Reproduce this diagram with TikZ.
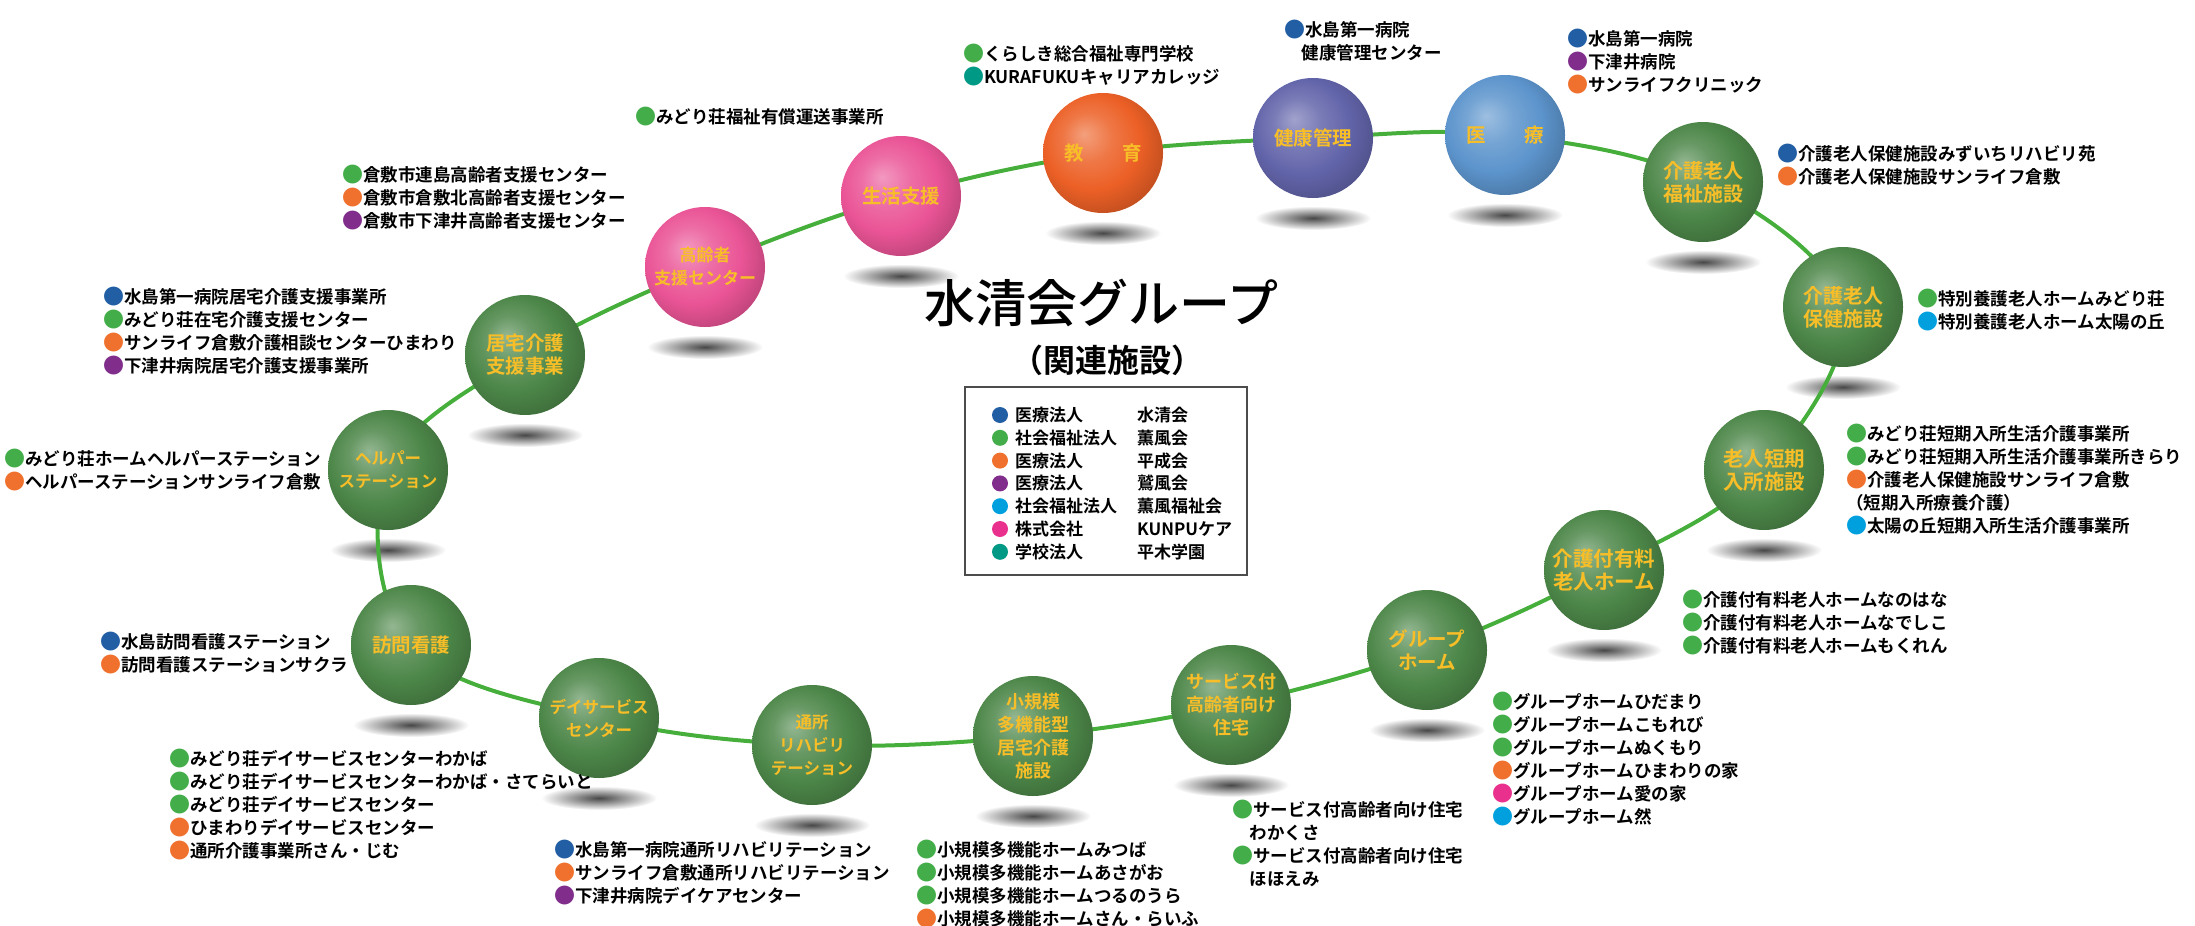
\documentclass[tikz,border=0pt]{standalone}
\usepackage{fontspec}
\setmainfont{Noto Sans CJK JP}[BoldFont={Noto Sans CJK JP Bold}]
\newfontfamily\titlefont{Noto Sans CJK JP Medium}
\pgfdeclarelayer{shadow}
\pgfdeclarelayer{ring}
\pgfsetlayers{shadow,ring,main}

\definecolor{dotblue}{RGB}{33,94,164}
\definecolor{dotgreen}{RGB}{67,173,73}
\definecolor{dotorange}{RGB}{239,113,45}
\definecolor{dotpurple}{RGB}{128,45,140}
\definecolor{dotcyan}{RGB}{0,160,222}
\definecolor{dotpink}{RGB}{232,48,140}
\definecolor{dotteal}{RGB}{0,153,133}
\definecolor{ballgreen}{RGB}{76,134,72}
\definecolor{ballpink}{RGB}{234,84,150}
\definecolor{ballorange}{RGB}{236,96,38}
\definecolor{ballviolet}{RGB}{98,100,170}
\definecolor{ballsky}{RGB}{92,148,204}
\definecolor{ballgold}{RGB}{248,190,40}
\definecolor{ringgreen}{RGB}{70,175,60}
\colorlet{ballc}{ballgreen}

\pgfdeclareradialshading[ballc]{sphere}{\pgfqpoint{-8bp}{8bp}}{%
  color(0bp)=(ballc!60!white); color(10bp)=(ballc!85!white);
  color(20bp)=(ballc); color(30bp)=(ballc!82!black); color(50bp)=(ballc!72!black)}

\newcommand{\spot}[1]{{\color{#1}\fontsize{21pt}{23pt}\selectfont\raisebox{-0.06em}{●}}}

\tikzset{
  sphere node/.style={circle, minimum size=120pt, inner sep=0pt, shade, shading=sphere,
    text=ballgold, align=center},
  facility/.style={anchor=north west, align=left, inner sep=0pt,
    font=\bfseries\fontsize{17.5pt}{23pt}\selectfont},
  legendtext/.style={anchor=west, inner sep=0pt, font=\bfseries\fontsize{17pt}{20pt}\selectfont},
  dotmark/.style={circle, minimum size=16pt, inner sep=0pt},
  link/.style={ringgreen, line width=4pt},
}
\tikzset{
  pics/ball/.style args={#1/#2/#3}{% #1=colour, #2=font size, #3=label
    code = {
      \begin{pgfonlayer}{shadow}
        \shade[inner color=black!72, outer color=white] (0,80) ellipse (58 and 12);
      \end{pgfonlayer}
      \colorlet{ballc}{#1}
      \node[sphere node, font=\bfseries\fontsize{#2pt}{23pt}\selectfont] (-c) at (0,0) {#3};
}}}

\begin{document}
\begin{tikzpicture}[x=1pt, y=-1pt]
  \useasboundingbox (0,0) rectangle (2195,926);

  \pic (koureisha) at (705,267) {ball={ballpink/17/高齢者\\支援センター}};
  \pic (seikatsu) at (901,196) {ball={ballpink/19.5/生活支援}};
  \pic (kyouiku) at (1103,153) {ball={ballorange/19.5/教　　育}};
  \pic (kenkou) at (1313,138) {ball={ballviolet/19.5/健康管理}};
  \pic (iryou) at (1505,135) {ball={ballsky/19.5/医　　療}};
  \pic (fukushi) at (1703,182) {ball={ballgreen/20/介護老人\\福祉施設}};
  \pic (hoken) at (1843,307) {ball={ballgreen/20/介護老人\\保健施設}};
  \pic (tanki) at (1764,470) {ball={ballgreen/20.5/老人短期\\入所施設}};
  \pic (yuryou) at (1604,570) {ball={ballgreen/20.5/介護付有料\\老人ホーム}};
  \pic (group) at (1427,650) {ball={ballgreen/19.5/グループ\\ホーム}};
  \pic (sakouju) at (1231,705) {ball={ballgreen/18/サービス付\\高齢者向け\\住宅}};
  \pic (shoukibo) at (1033,736) {ball={ballgreen/18/小規模\\多機能型\\居宅介護\\施設}};
  \pic (tsusho) at (812,745) {ball={ballgreen/16.5/通所\\リハビリ\\テーション}};
  \pic (day) at (599,718) {ball={ballgreen/16.5/デイサービス\\センター}};
  \pic (houmon) at (411,645) {ball={ballgreen/19.5/訪問看護}};
  \pic (helper) at (388,470) {ball={ballgreen/16.5/ヘルパー\\ステーション}};
  \pic (kyotaku) at (525,355) {ball={ballgreen/19.5/居宅介護\\支援事業}};

  \begin{pgfonlayer}{ring}
    \draw[link] plot[smooth cycle, tension=0.6] coordinates {(koureisha-c) (seikatsu-c)
      (kyouiku-c) (kenkou-c) (iryou-c) (fukushi-c) (hoken-c) (tanki-c) (yuryou-c)
      (group-c) (sakouju-c) (shoukibo-c) (tsusho-c) (day-c) (houmon-c) (helper-c) (kyotaku-c)};
  \end{pgfonlayer}

  % facilities next to each ball
  \node[facility] (l-seikatsu) at (635,107) {\spot{dotgreen}みどり荘福祉有償運送事業所};
  \node[facility] (l-koureisha) at (342,165) {\spot{dotgreen}倉敷市連島高齢者支援センター\\
    \spot{dotorange}倉敷市倉敷北高齢者支援センター\\\spot{dotpurple}倉敷市下津井高齢者支援センター};
  \node[facility] (l-kyotaku) at (103,287) {\spot{dotblue}水島第一病院居宅介護支援事業所\\
    \spot{dotgreen}みどり荘在宅介護支援センター\\\spot{dotorange}サンライフ倉敷介護相談センターひまわり\\
    \spot{dotpurple}下津井病院居宅介護支援事業所};
  \node[facility] (l-helper) at (4,449) {\spot{dotgreen}みどり荘ホームヘルパーステーション\\
    \spot{dotorange}ヘルパーステーションサンライフ倉敷};
  \node[facility] (l-houmon) at (100,632) {\spot{dotblue}水島訪問看護ステーション\\
    \spot{dotorange}訪問看護ステーションサクラ};
  \node[facility] (l-day) at (169,749) {\spot{dotgreen}みどり荘デイサービスセンターわかば\\
    \spot{dotgreen}みどり荘デイサービスセンターわかば・さてらいと\\\spot{dotgreen}みどり荘デイサービスセンター\\
    \spot{dotorange}ひまわりデイサービスセンター\\\spot{dotorange}通所介護事業所さん・じむ};
  \node[facility] (l-tsusho) at (554,840) {\spot{dotblue}水島第一病院通所リハビリテーション\\
    \spot{dotorange}サンライフ倉敷通所リハビリテーション\\\spot{dotpurple}下津井病院デイケアセンター};
  \node[facility] (l-shoukibo) at (916,840) {\spot{dotgreen}小規模多機能ホームみつば\\
    \spot{dotgreen}小規模多機能ホームあさがお\\\spot{dotgreen}小規模多機能ホームつるのうら\\
    \spot{dotorange}小規模多機能ホームさん・らいふ};
  \node[facility] (l-sakouju) at (1232,800) {\spot{dotgreen}サービス付高齢者向け住宅\\
    \hspace*{1em}わかくさ\\\spot{dotgreen}サービス付高齢者向け住宅\\\hspace*{1em}ほほえみ};
  \node[facility] (l-group) at (1492,692) {\spot{dotgreen}グループホームひだまり\\
    \spot{dotgreen}グループホームこもれび\\\spot{dotgreen}グループホームぬくもり\\
    \spot{dotorange}グループホームひまわりの家\\\spot{dotpink}グループホーム愛の家\\
    \spot{dotcyan}グループホーム然};
  \node[facility] (l-yuryou) at (1682,590) {\spot{dotgreen}介護付有料老人ホームなのはな\\
    \spot{dotgreen}介護付有料老人ホームなでしこ\\\spot{dotgreen}介護付有料老人ホームもくれん};
  \node[facility] (l-tanki) at (1846,424) {\spot{dotgreen}みどり荘短期入所生活介護事業所\\
    \spot{dotgreen}みどり荘短期入所生活介護事業所きらり\\\spot{dotorange}介護老人保健施設サンライフ倉敷\\
    （短期入所療養介護）\\\spot{dotcyan}太陽の丘短期入所生活介護事業所};
  \node[facility] (l-hoken) at (1917,289) {\spot{dotgreen}特別養護老人ホームみどり荘\\
    \spot{dotcyan}特別養護老人ホーム太陽の丘};
  \node[facility] (l-fukushi) at (1777,144) {\spot{dotblue}介護老人保健施設みずいちリハビリ苑\\
    \spot{dotorange}介護老人保健施設サンライフ倉敷};
  \node[facility] (l-iryou) at (1567,29) {\spot{dotblue}水島第一病院\\
    \spot{dotpurple}下津井病院\\\spot{dotorange}サンライフクリニック};
  \node[facility] (l-kenkou) at (1284,20) {\spot{dotblue}水島第一病院\\\hspace*{1em}健康管理センター};
  \node[facility] (l-kyouiku) at (963,44) {\spot{dotgreen}くらしき総合福祉専門学校\\
    \spot{dotteal}KURAFUKUキャリアカレッジ};

  % title and legend
  \node[font=\titlefont\fontsize{51pt}{51pt}\selectfont] (title) at (1101,303) {水清会グループ};
  \node[font=\bfseries\fontsize{32pt}{32pt}\selectfont] (subtitle) at (1107,360) {（関連施設）};
  \node[draw=black!70, line width=1.2pt, minimum width=282pt, minimum height=188pt] (legend) at (1106,481) {};
  \foreach \c/\a/\b [count=\i] in {dotblue/医療法人/水清会, dotgreen/社会福祉法人/薫風会,
      dotorange/医療法人/平成会, dotpurple/医療法人/鷲風会, dotcyan/社会福祉法人/薫風福祉会,
      dotpink/株式会社/KUNPUケア, dotteal/学校法人/平木学園} {
    \node[dotmark, fill=\c] (ld\i) at (1000,392.2+22.8*\i) {};
    \node[legendtext] (la\i) at (1015,392.2+22.8*\i) {\a};
    \node[legendtext] (lb\i) at (1137,392.2+22.8*\i) {\b};
  }
\end{tikzpicture}
\end{document}
